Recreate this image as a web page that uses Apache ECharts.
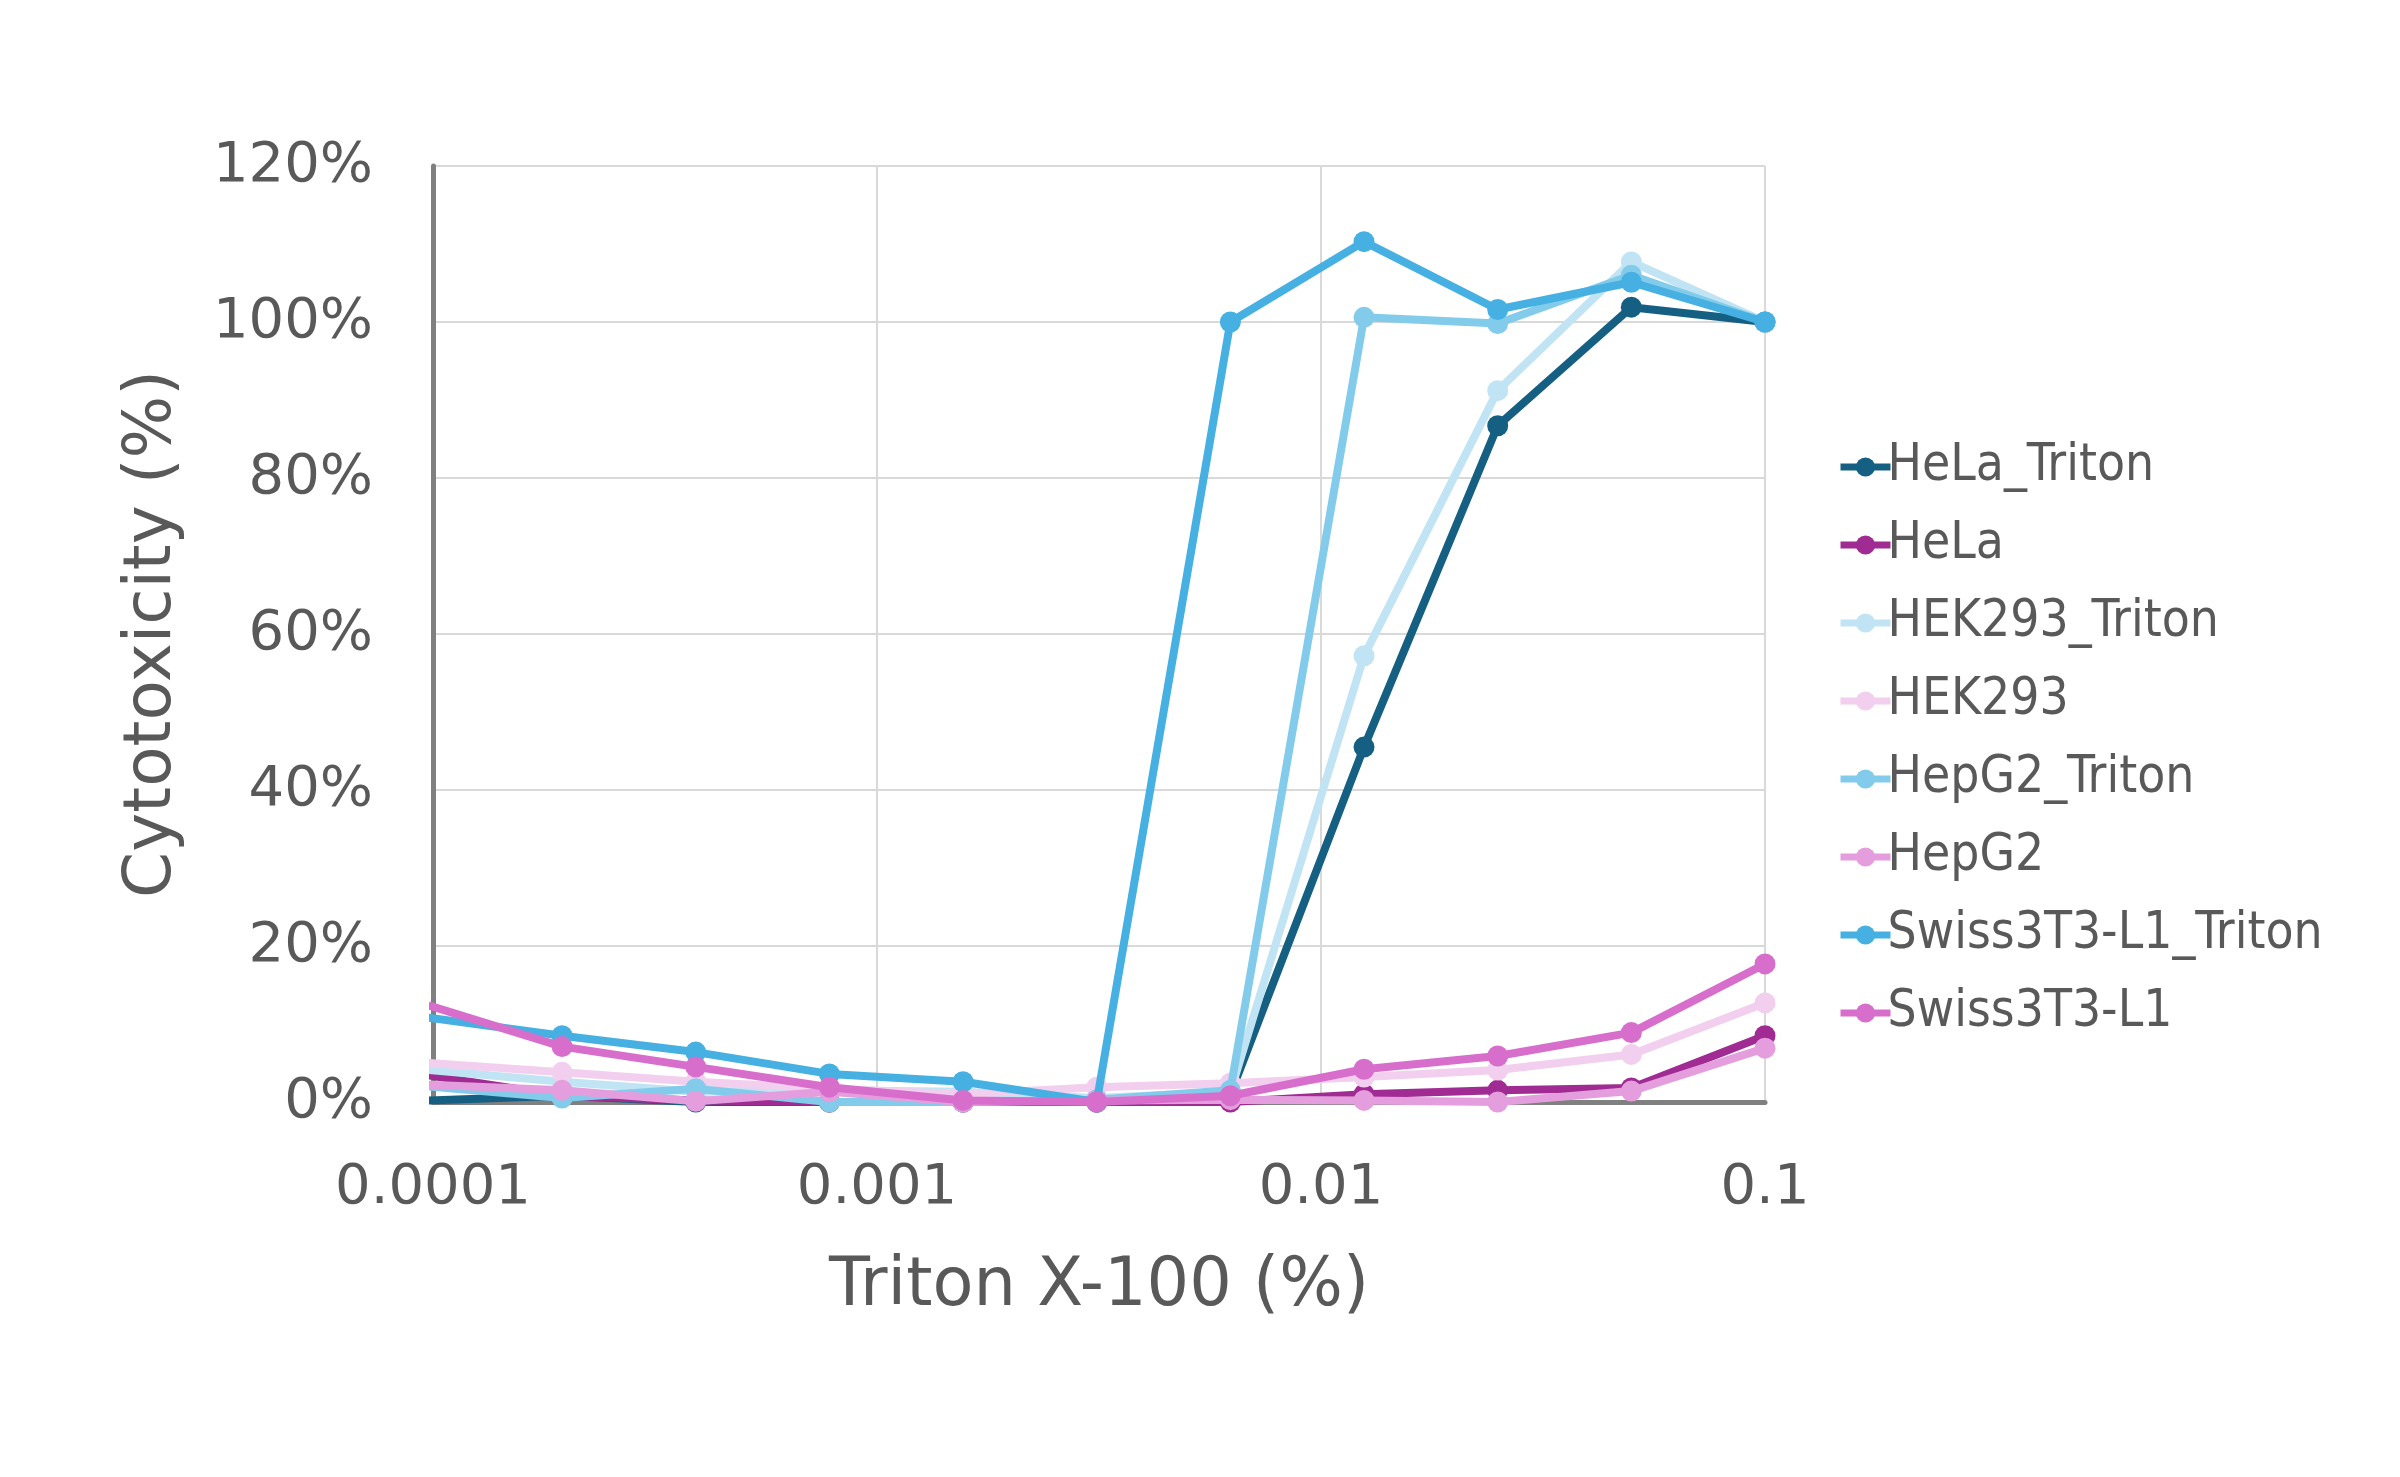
<!DOCTYPE html>
<html>
<head>
<meta charset="utf-8">
<title>Cytotoxicity vs Triton X-100</title>
<script src="https://cdn.jsdelivr.net/npm/echarts@6/dist/echarts.min.js"></script>
<style>
  html, body { margin: 0; padding: 0; background: #fff; }
  #main { width: 2400px; height: 1477px; }
</style>
</head>
<body>
<div id="main"></div>
<script>
// Triton X-100 concentration (%), two-fold dilution series
const concentrations = [0.00009765625, 0.0001953125, 0.000390625, 0.00078125, 0.0015625,
  0.003125, 0.00625, 0.0125, 0.025, 0.05, 0.1];

// cytotoxicity (%) per cell line
const helaTriton   = [0.2, 0.8, 0, 0, 0, 0, 1.0, 45.5, 86.7, 101.9, 100];
const hela         = [3.4, 0.8, 0.2, 0, 0, 0, 0, 1.0, 1.5, 1.8, 8.5];
const hek293Triton = [4.1, 2.6, 1.3, 1.5, 1.3, 0.5, 1.3, 57.2, 91.2, 107.7, 100];
const hek293       = [5.0, 3.8, 2.6, 1.7, 1.0, 1.9, 2.4, 3.2, 4.1, 6.1, 12.7];
const hepg2Triton  = [2.0, 0.5, 1.7, 0, 0, 0.3, 1.5, 100.6, 99.8, 106.0, 100];
const hepg2        = [2.2, 1.5, 0.1, 1.3, 0, 0.2, 0.3, 0.2, 0, 1.4, 6.9];
const swissTriton  = [10.8, 8.5, 6.4, 3.6, 2.6, 0, 100, 110.3, 101.6, 105.1, 100];
const swiss        = [12.4, 7.1, 4.5, 1.9, 0.2, 0, 0.8, 4.2, 5.9, 8.9, 17.7];

const seriesNames = ['HeLa_Triton', 'HeLa', 'HEK293_Triton', 'HEK293',
  'HepG2_Triton', 'HepG2', 'Swiss3T3-L1_Triton', 'Swiss3T3-L1'];
const seriesValues = [helaTriton, hela, hek293Triton, hek293, hepg2Triton, hepg2, swissTriton, swiss];
const seriesColors = ['#156082', '#A02B93', '#C1E4F5', '#F2CEEF', '#83CBEB', '#E59EDD', '#45B0E1', '#D86ECC'];

const TEXT = '#595959';
const AXIS_FONT = '"DejaVu Sans", Verdana, sans-serif';

const chart = echarts.init(document.getElementById('main'));

chart.setOption({
  backgroundColor: '#ffffff',
  animation: false,
  grid: { left: 433, right: 635, top: 166, bottom: 375 },
  legend: {
    orient: 'vertical',
    left: 1832,
    top: 433,
    itemWidth: 50,
    itemHeight: 24,
    itemGap: 20,
    data: seriesNames,
    lineStyle: { width: 7 },
    textStyle: {
      color: TEXT,
      fontSize: 51,
      lineHeight: 58,
      fontFamily: '"Liberation Sans Narrow", "Arial Narrow", "DejaVu Sans Condensed", sans-serif',
      padding: [0, 0, 0, -8]
    }
  },
  xAxis: {
    type: 'log',
    logBase: 10,
    min: 0.0001,
    max: 0.1,
    name: 'Triton X-100 (%)',
    nameLocation: 'middle',
    nameGap: 152,
    nameTextStyle: { color: TEXT, fontSize: 67, fontFamily: AXIS_FONT },
    axisLine: { lineStyle: { color: '#808080', width: 5 } },
    axisTick: { show: false },
    axisLabel: {
      color: TEXT,
      fontSize: 56,
      margin: 58,
      fontFamily: AXIS_FONT,
      formatter: v => String(parseFloat(Number(v).toPrecision(6)))
    },
    splitLine: { show: true, lineStyle: { color: '#D9D9D9', width: 2 } }
  },
  yAxis: {
    type: 'value',
    min: 0,
    max: 120,
    interval: 20,
    name: 'Cytotoxicity (%)',
    nameLocation: 'middle',
    nameGap: 247,
    nameTextStyle: { color: TEXT, fontSize: 66, fontFamily: AXIS_FONT },
    axisLine: { show: true, lineStyle: { color: '#808080', width: 5 } },
    axisTick: { show: false },
    axisLabel: {
      color: TEXT,
      fontSize: 56,
      margin: 60,
      fontFamily: AXIS_FONT,
      formatter: '{value}%'
    },
    splitLine: { show: true, lineStyle: { color: '#D9D9D9', width: 2 } }
  },
  series: seriesNames.map((name, i) => ({
    name: name,
    type: 'line',
    data: concentrations.map((c, j) => [c, seriesValues[i][j]]),
    color: seriesColors[i],
    symbol: 'circle',
    symbolSize: 21,
    showAllSymbol: true,
    clip: true,
    lineStyle: { width: 8, color: seriesColors[i] },
    itemStyle: { color: seriesColors[i] },
    z: 2 + i
  }))
});
</script>
</body>
</html>
